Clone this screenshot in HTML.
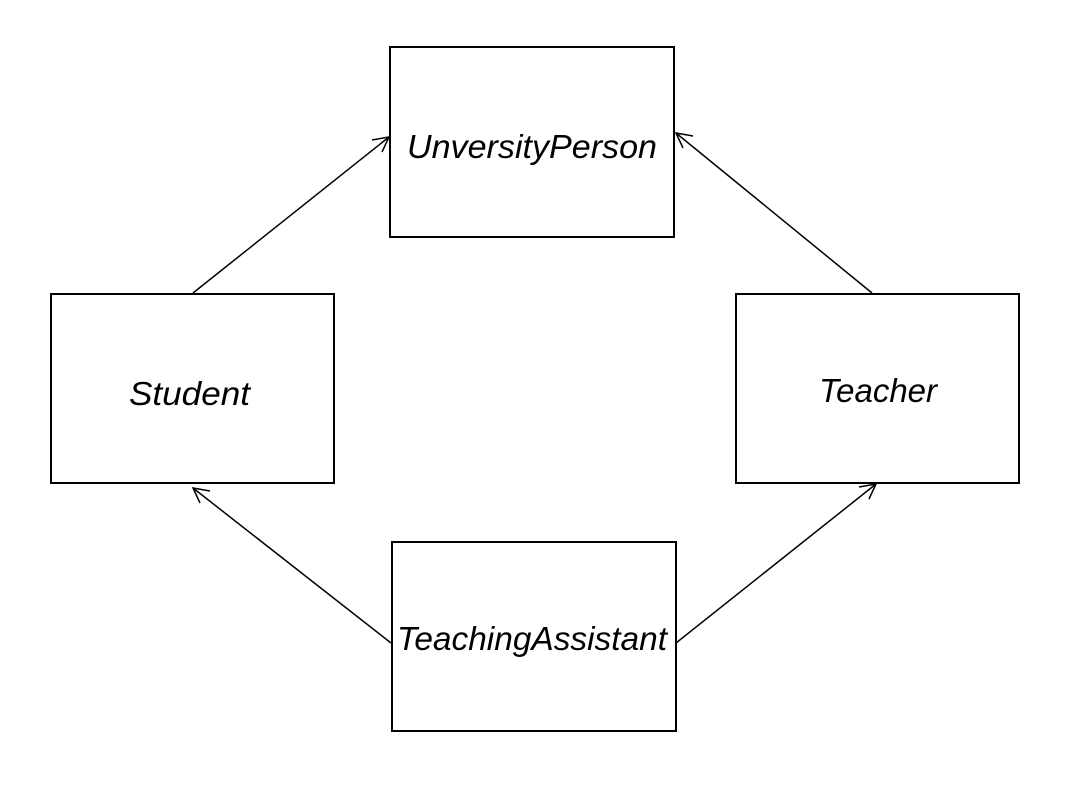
<!DOCTYPE html>
<html><head><meta charset="utf-8"><style>
html,body{margin:0;padding:0;background:#fff;}
svg{display:block}
text{font-family:"Liberation Sans",sans-serif;font-style:italic;font-size:33px;fill:#000}
</style></head><body>
<svg width="1066" height="795" viewBox="0 0 1066 795" xmlns="http://www.w3.org/2000/svg">
<rect width="1066" height="795" fill="#fff"/>
<g fill="none" stroke="#000" stroke-width="2">
<rect x="390" y="47" width="284" height="190"/>
<rect x="51" y="294" width="283" height="189"/>
<rect x="736" y="294" width="283" height="189"/>
<rect x="392" y="542" width="284" height="189"/>
</g>
<g fill="none" stroke="#000" stroke-width="1.5">
<line x1="193" y1="293" x2="389" y2="137"/>
<polyline points="372,140 389,137 382,152"/>
<line x1="872" y1="293" x2="676" y2="133"/>
<polyline points="693,136 676,133 683,148"/>
<line x1="391" y1="643" x2="193" y2="488"/>
<polyline points="210,491 193,488 200,503"/>
<line x1="676" y1="643" x2="876" y2="484"/>
<polyline points="859,487 876,484 869,499"/>
</g>
<text x="407" y="158" textLength="250" lengthAdjust="spacingAndGlyphs">UnversityPerson</text>
<text x="129" y="405" textLength="121" lengthAdjust="spacingAndGlyphs">Student</text>
<text x="819" y="402" textLength="118" lengthAdjust="spacingAndGlyphs">Teacher</text>
<text x="397" y="650" textLength="270" lengthAdjust="spacingAndGlyphs">TeachingAssistant</text>
</svg>
</body></html>
